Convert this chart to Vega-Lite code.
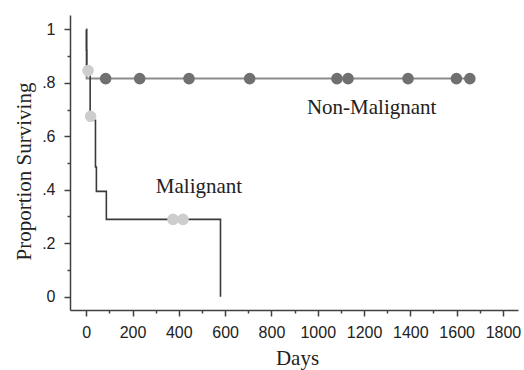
{
  "$schema": "https://vega.github.io/schema/vega-lite/v6.json",
  "width": 448,
  "height": 295,
  "autosize": "none",
  "padding": {"left": 70, "top": 15, "right": 6, "bottom": 60},
  "background": "white",
  "config": {
    "view": {"stroke": null},
    "axis": {
      "grid": false,
      "domainColor": "#404040",
      "tickColor": "#404040",
      "domainWidth": 1.5,
      "tickWidth": 1.5,
      "labelFont": "Liberation Sans",
      "labelFontSize": 16,
      "labelColor": "#222222",
      "titleFont": "Liberation Serif",
      "titleFontSize": 21,
      "titleFontWeight": "normal",
      "titleColor": "#222222"
    }
  },
  "datasets": {
    "curves": [
      {"group": "Non-Malignant", "day": 0, "surv": 1},
      {"group": "Non-Malignant", "day": 2, "surv": 0.816},
      {"group": "Non-Malignant", "day": 1665, "surv": 0.816},
      {"group": "Malignant", "day": 0, "surv": 1},
      {"group": "Malignant", "day": 1, "surv": 0.923},
      {"group": "Malignant", "day": 2, "surv": 0.846},
      {"group": "Malignant", "day": 17, "surv": 0.66},
      {"group": "Malignant", "day": 40, "surv": 0.485},
      {"group": "Malignant", "day": 44, "surv": 0.394},
      {"group": "Malignant", "day": 87, "surv": 0.289},
      {"group": "Malignant", "day": 580, "surv": 0}
    ],
    "censor": [
      {"group": "Malignant", "day": 8, "surv": 0.846},
      {"group": "Malignant", "day": 19, "surv": 0.675},
      {"group": "Malignant", "day": 375, "surv": 0.289},
      {"group": "Malignant", "day": 418, "surv": 0.289},
      {"group": "Non-Malignant", "day": 84, "surv": 0.816},
      {"group": "Non-Malignant", "day": 231, "surv": 0.816},
      {"group": "Non-Malignant", "day": 444, "surv": 0.816},
      {"group": "Non-Malignant", "day": 706, "surv": 0.816},
      {"group": "Non-Malignant", "day": 1083, "surv": 0.816},
      {"group": "Non-Malignant", "day": 1131, "surv": 0.816},
      {"group": "Non-Malignant", "day": 1390, "surv": 0.816},
      {"group": "Non-Malignant", "day": 1599, "surv": 0.816},
      {"group": "Non-Malignant", "day": 1657, "surv": 0.816}
    ],
    "labels": [
      {"label": "Malignant", "day": 487, "surv": 0.388},
      {"label": "Non-Malignant", "day": 1233, "surv": 0.683}
    ]
  },
  "layer": [
    {
      "data": {"name": "curves"},
      "transform": [{"filter": "datum.group == 'Non-Malignant'"}],
      "mark": {"type": "line", "interpolate": "step-after", "color": "#8c8c8c", "strokeWidth": 2},
      "encoding": {
        "x": {
          "field": "day", "type": "quantitative",
          "scale": {"domain": [-70, 1865], "nice": false, "zero": false},
          "axis": {"orient": "bottom", "values": [100, 300, 500, 700, 900, 1100, 1300, 1500, 1700], "tickSize": 3, "labels": false, "domain": false, "title": null}
        },
        "y": {
          "field": "surv", "type": "quantitative",
          "scale": {"domain": [-0.05, 1.054], "nice": false, "zero": false},
          "axis": {"orient": "left", "values": [0.1, 0.3, 0.5, 0.7, 0.9], "tickSize": 3, "labels": false, "domain": false, "title": null}
        }
      }
    },
    {
      "data": {"name": "curves"},
      "transform": [{"filter": "datum.group == 'Malignant'"}],
      "mark": {"type": "line", "interpolate": "step-after", "color": "#3a3a3a", "strokeWidth": 1.6},
      "encoding": {
        "x": {
          "field": "day", "type": "quantitative",
          "axis": {"orient": "bottom", "values": [0, 200, 400, 600, 800, 1000, 1200, 1400, 1600, 1800], "format": "d", "tickSize": 6, "labelPadding": 8, "title": "Days", "titleX": 227, "titleY": 54, "titleBaseline": "alphabetic", "titleAnchor": null}
        },
        "y": {
          "field": "surv", "type": "quantitative",
          "axis": {"orient": "left", "values": [0, 0.2, 0.4, 0.6, 0.8, 1], "tickSize": 6, "labelPadding": 9,
            "labelExpr": "datum.value == 0 ? '0' : (datum.value == 1 ? '1' : replace(format(datum.value, '.1f'), '0.', '.'))",
            "title": "Proportion Surviving", "titleX": -40, "titleY": 156, "titleAngle": -90, "titleAlign": "center", "titleBaseline": "alphabetic", "titleAnchor": null}
        }
      }
    },
    {
      "data": {"name": "censor"},
      "mark": {"type": "point", "filled": true, "size": 135, "opacity": 1},
      "encoding": {
        "x": {"field": "day", "type": "quantitative", "axis": null},
        "y": {"field": "surv", "type": "quantitative", "axis": null},
        "color": {"field": "group", "type": "nominal", "scale": {"domain": ["Malignant", "Non-Malignant"], "range": ["#cdcdcd", "#707070"]}, "legend": null}
      }
    },
    {
      "data": {"name": "labels"},
      "mark": {"type": "text", "font": "Liberation Serif", "fontSize": 21, "align": "center", "baseline": "alphabetic", "color": "#222222"},
      "encoding": {
        "x": {"field": "day", "type": "quantitative", "axis": null},
        "y": {"field": "surv", "type": "quantitative", "axis": null},
        "text": {"field": "label"}
      }
    }
  ],
  "resolve": {"axis": {"x": "independent", "y": "independent"}}
}
